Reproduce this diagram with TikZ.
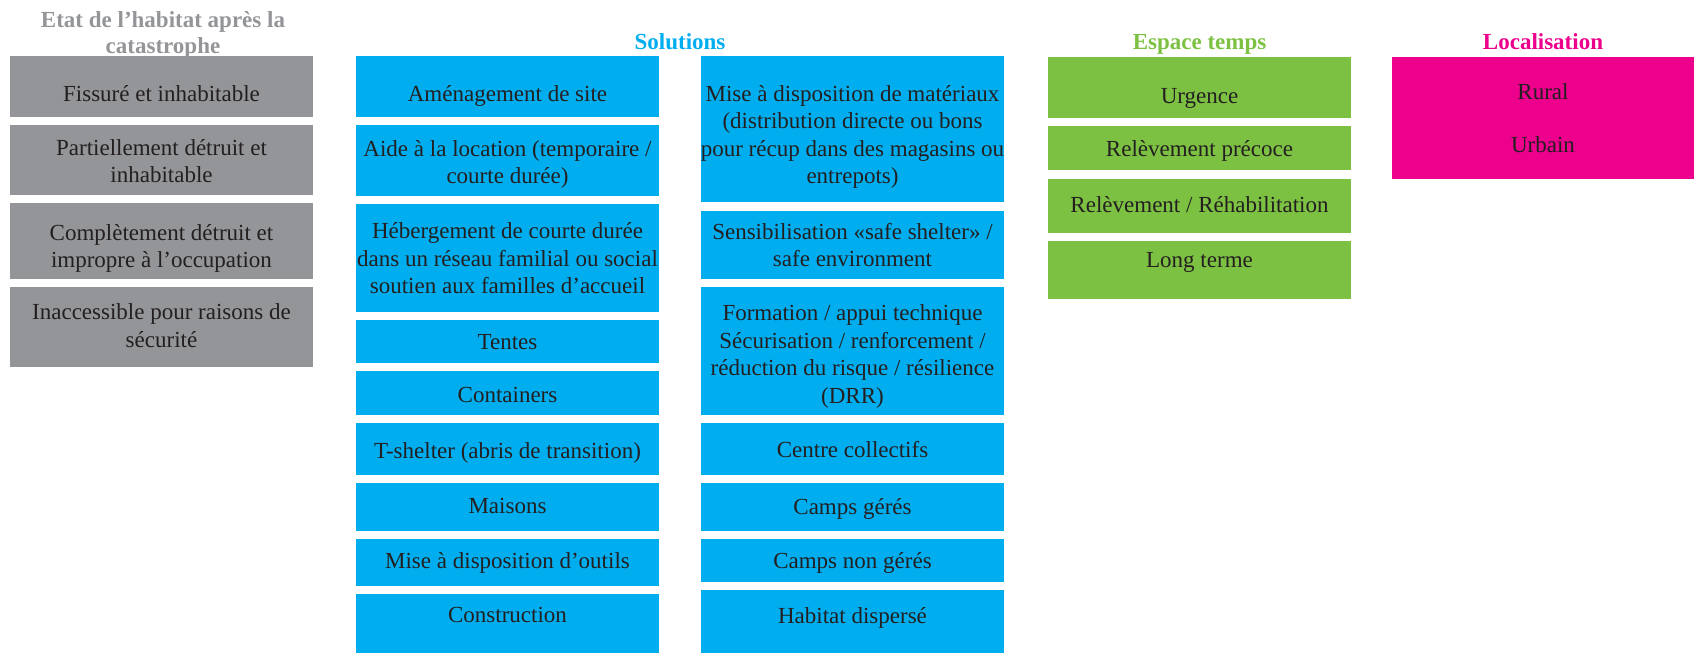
\documentclass[tikz,border=0pt]{standalone}
\usepackage{fontspec}
\setmainfont{Liberation Serif}
\definecolor{cgrey}{HTML}{939598}
\definecolor{cblue}{HTML}{00AEEF}
\definecolor{cgreen}{HTML}{7DC143}
\definecolor{cpink}{HTML}{EC008C}
\definecolor{ctext}{HTML}{231F20}
\tikzset{
  cellbox/.style={inner sep=0pt, outer sep=0pt, draw=none, rectangle},
  celltxt/.style={inner sep=0pt, align=center, text=ctext, yshift=-3.5pt, font=\fontsize{23}{27.6}\selectfont},
  headtxt/.style={inner sep=0pt, align=center, yshift=-3.5pt, font=\bfseries\fontsize{23}{26}\selectfont},
}
% name, colour, x1, x2, y1, y2, y of text, text
\newcommand\mycell[8]{%
  \node[cellbox, fill=#2, minimum width={(#4)-(#3)}, minimum height={(#6)-(#5)}]
    (#1box) at ({((#3)+(#4))/2},{((#5)+(#6))/2}) {};
  \node[celltxt] (#1) at ({((#3)+(#4))/2},#7) {\strut #8\strut};
}
\begin{document}
\begin{tikzpicture}[x=1pt,y=-1pt]
\useasboundingbox (0,0) rectangle (1700,653);
% headings
\node[headtxt, text=cgrey] (hetat) at (163,31.5) {\strut Etat de l’habitat après la\\catastrophe\strut};
\node[headtxt, text=cblue] (hsol) at (680,41) {\strut Solutions\strut};
\node[headtxt, text=cgreen] (hesp) at (1199.5,41) {\strut Espace temps\strut};
\node[headtxt, text=cpink] (hloc) at (1543,41) {\strut Localisation\strut};
% grey column
\mycell{g1}{cgrey}{10}{313}{56}{117}{92}{Fissuré et inhabitable}
\mycell{g2}{cgrey}{10}{313}{125}{195}{160}{Partiellement détruit et\\inhabitable}
\mycell{g3}{cgrey}{10}{313}{203}{279}{245}{Complètement détruit et\\impropre à l’occupation}
\mycell{g4}{cgrey}{10}{313}{287}{367}{324.5}{Inaccessible pour raisons de\\sécurité}
% blue left column
\mycell{a1}{cblue}{356}{659}{56}{117}{92}{Aménagement de site}
\mycell{a2}{cblue}{356}{659}{125}{196}{161}{Aide à la location (temporaire /\\courte durée)}
\mycell{a3}{cblue}{356}{659}{204}{312}{257}{Hébergement de courte durée\\dans un réseau familial ou social\\soutien aux familles d’accueil}
\mycell{a4}{cblue}{356}{659}{319.5}{363}{340}{Tentes}
\mycell{a5}{cblue}{356}{659}{371}{415}{393}{Containers}
\mycell{a6}{cblue}{356}{659}{423}{475}{449}{T-shelter (abris de transition)}
\mycell{a7}{cblue}{356}{659}{483}{531}{504}{Maisons}
\mycell{a8}{cblue}{356}{659}{539}{586}{559}{Mise à disposition d’outils}
\mycell{a9}{cblue}{356}{659}{594}{653}{613.5}{Construction}
% blue right column
\mycell{b1}{cblue}{701}{1004}{56}{202}{133.5}{Mise à disposition de matériaux\\(distribution directe ou bons\\pour récup dans des magasins ou\\entrepots)}
\mycell{b2}{cblue}{701}{1004}{211}{279}{244}{Sensibilisation «safe shelter» /\\safe environment}
\mycell{b3}{cblue}{701}{1004}{287}{415}{353}{Formation / appui technique\\Sécurisation / renforcement /\\réduction du risque / résilience\\(DRR)}
\mycell{b4}{cblue}{701}{1004}{423}{475}{448.5}{Centre collectifs}
\mycell{b5}{cblue}{701}{1004}{483}{531}{505}{Camps gérés}
\mycell{b6}{cblue}{701}{1004}{539}{582}{559.5}{Camps non gérés}
\mycell{b7}{cblue}{701}{1004}{590}{653}{614}{Habitat dispersé}
% green column
\mycell{e1}{cgreen}{1048}{1351}{57}{118}{94}{Urgence}
\mycell{e2}{cgreen}{1048}{1351}{126}{170}{147.5}{Relèvement précoce}
\mycell{e3}{cgreen}{1048}{1351}{179}{233}{203}{Relèvement / Réhabilitation}
\mycell{e4}{cgreen}{1048}{1351}{241}{299}{258}{Long terme}
% pink
\node[cellbox, fill=cpink, minimum width=302, minimum height=122] (locbox) at (1543,118) {};
\node[celltxt] (rural) at (1543,90) {\strut Rural\strut};
\node[celltxt] (urbain) at (1543,143) {\strut Urbain\strut};
\end{tikzpicture}
\end{document}
